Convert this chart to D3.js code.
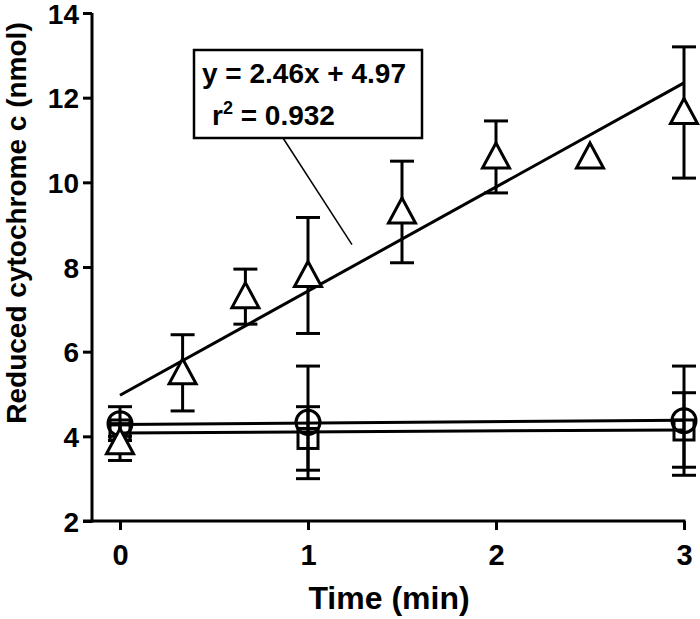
<!DOCTYPE html>
<html>
<head>
<meta charset="utf-8">
<script src="https://cdn.jsdelivr.net/npm/d3@7"></script>
<style>
  html, body { margin: 0; padding: 0; background: #fff; }
  svg { display: block; }
  text { font-family: "Liberation Sans", Arial, Helvetica, sans-serif; font-weight: bold; fill: #000; }
</style>
</head>
<body>
<svg id="chart" width="700" height="619"></svg>
<script>
// ---- data ----
const yTicks = [2, 4, 6, 8, 10, 12, 14];
const xTicks = [0, 1, 2, 3];

const triTime = [0, 0.333, 0.667, 1, 1.5, 2, 2.5, 3];
const triMean = [3.85, 5.5, 7.3, 7.8, 9.3, 10.6, 10.6, 11.65];
const triErr  = [0.42, 0.9, 0.65, 1.37, 1.2, 0.85, 0, 1.55];

const ctlTime  = [0, 1, 3];
const circMean = [4.3, 4.33, 4.37];
const circErr  = [0.4, 1.33, 1.29];
const sqMean   = [4.15, 3.95, 4.15];
const sqErr    = [0.15, 0.75, 0.88];

// linear fits: [intercept, slope]
const triFit  = [4.97, 2.46];
const circFit = [4.28, 0.033];
const sqFit   = [4.08, 0.024];
const fitRange = [0, 3];

const eqText = "y = 2.46x + 4.97";
const r2Value = "0.932";
const leaderTarget = [1.234, 8.53];

// ---- drawing ----
const svg = d3.select("#chart");
const x = d3.scaleLinear().domain([0, 3]).range([120, 684]);
const y = d3.scaleLinear().domain([2, 14]).range([521, 13]);
const SW = 3;

// Y axis
const gy = svg.append("g").attr("transform", "translate(92,0)")
  .call(d3.axisLeft(y).tickValues(yTicks).tickSize(9).tickSizeOuter(0).tickPadding(4));
gy.select(".domain").remove();
gy.selectAll(".tick line").attr("stroke", "#000").attr("stroke-width", SW);
gy.selectAll(".tick text").style("font-size", "28px").attr("dy", "0.36em");
svg.append("line").attr("x1", 92).attr("x2", 92).attr("y1", y(2) + SW/2).attr("y2", y(14))
  .attr("stroke", "#000").attr("stroke-width", SW);

// X axis
const gx = svg.append("g").attr("transform", `translate(0,${y(2)})`)
  .call(d3.axisBottom(x).tickValues(xTicks).tickFormat(d3.format("d")).tickSize(9).tickSizeOuter(0).tickPadding(14));
gx.select(".domain").remove();
gx.selectAll(".tick line").attr("stroke", "#000").attr("stroke-width", SW);
gx.selectAll(".tick text").style("font-size", "29px");
svg.append("line").attr("x1", 83).attr("x2", x(3) + SW/2).attr("y1", y(2)).attr("y2", y(2))
  .attr("stroke", "#000").attr("stroke-width", SW);

// Axis titles
svg.append("text").attr("x", 389).attr("y", 609).attr("text-anchor", "middle")
  .style("font-size", "32px").text("Time (min)");
svg.append("text").attr("transform", "translate(26,223) rotate(-90)").attr("text-anchor", "middle")
  .style("font-size", "28px").text("Reduced cytochrome c (nmol)");

// Fit lines
function fitLine(fit) {
  svg.append("line")
    .attr("x1", x(fitRange[0])).attr("y1", y(fit[0] + fit[1] * fitRange[0]))
    .attr("x2", x(fitRange[1])).attr("y2", y(fit[0] + fit[1] * fitRange[1]))
    .attr("stroke", "#000").attr("stroke-width", SW);
}
fitLine(sqFit);
fitLine(circFit);
fitLine(triFit);

// Error bars
function errBars(times, means, errs) {
  const g = svg.append("g").attr("stroke", "#000").attr("stroke-width", SW);
  times.forEach((t, i) => {
    if (!errs[i]) return;
    const cx = x(t), top = y(means[i] + errs[i]), bot = y(means[i] - errs[i]);
    g.append("line").attr("x1", cx).attr("x2", cx).attr("y1", top).attr("y2", bot);
    g.append("line").attr("x1", cx - 12).attr("x2", cx + 12).attr("y1", top).attr("y2", top);
    g.append("line").attr("x1", cx - 12).attr("x2", cx + 12).attr("y1", bot).attr("y2", bot);
  });
}
errBars(ctlTime, sqMean, sqErr);
errBars(ctlTime, circMean, circErr);
errBars(triTime, triMean, triErr);

// Markers
svg.append("g").selectAll("rect").data(ctlTime).join("rect")
  .attr("x", d => x(d) - 10).attr("y", (d, i) => y(sqMean[i]) - 10)
  .attr("width", 20).attr("height", 20)
  .attr("fill", "none").attr("stroke", "#000").attr("stroke-width", SW);
svg.append("g").selectAll("circle").data(ctlTime).join("circle")
  .attr("cx", d => x(d)).attr("cy", (d, i) => y(circMean[i])).attr("r", 12)
  .attr("fill", "none").attr("stroke", "#000").attr("stroke-width", SW);
svg.append("g").selectAll("path").data(triTime).join("path")
  .attr("d", (d, i) => {
    const cx = x(d), cy = y(triMean[i]);
    return `M${cx},${cy - 14}L${cx + 13.5},${cy + 11}L${cx - 13.5},${cy + 11}Z`;
  })
  .attr("fill", "#fff").attr("stroke", "#000").attr("stroke-width", SW).attr("stroke-linejoin", "miter");

// Annotation box
svg.append("line").attr("x1", 283).attr("y1", 138)
  .attr("x2", x(leaderTarget[0])).attr("y2", y(leaderTarget[1]))
  .attr("stroke", "#000").attr("stroke-width", 1.5);
svg.append("rect").attr("x", 194).attr("y", 50).attr("width", 228).attr("height", 88)
  .attr("fill", "#fff").attr("stroke", "#000").attr("stroke-width", 2.5);
svg.append("text").attr("x", 202).attr("y", 83).style("font-size", "28px").text(eqText);
const r2 = svg.append("text").attr("x", 212).attr("y", 125).style("font-size", "28px");
r2.append("tspan").text("r");
r2.append("tspan").attr("dy", -11).style("font-size", "18px").text("2");
r2.append("tspan").attr("dy", 11).text(" = " + r2Value);
</script>
</body>
</html>
